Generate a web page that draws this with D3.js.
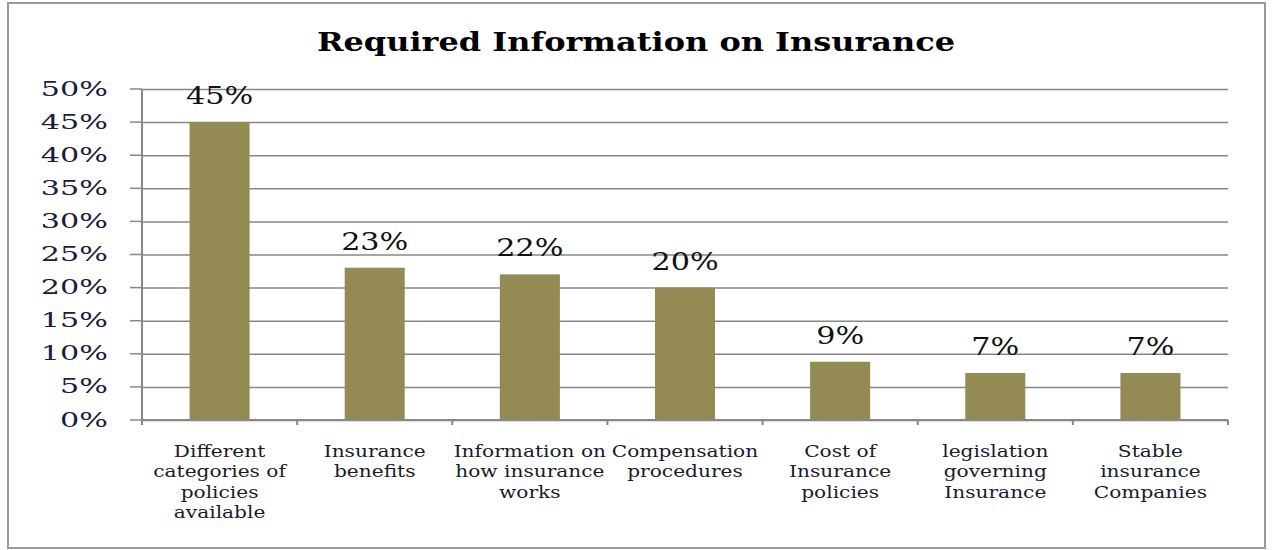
<!DOCTYPE html>
<html>
<head>
<meta charset="utf-8">
<script src="https://cdn.jsdelivr.net/npm/d3@7"></script>
<style>
  body { margin: 0; background: #fff; }
  svg { display: block; }
  text { font-family: "DejaVu Serif", serif; }
</style>
</head>
<body>
<svg id="chart" width="1272" height="550"></svg>
<script>
const categories = [
  ["Different", "categories of", "policies", "available"],
  ["Insurance", "benefits"],
  ["Information on", "how insurance", "works"],
  ["Compensation", "procedures"],
  ["Cost of", "Insurance", "policies"],
  ["legislation", "governing", "Insurance"],
  ["Stable", "insurance", "Companies"]
];
const values = [0.45, 0.23, 0.22, 0.20, 0.088, 0.071, 0.071];
const yTicks = [0, 0.05, 0.10, 0.15, 0.20, 0.25, 0.30, 0.35, 0.40, 0.45, 0.50];
const title = "Required Information on Insurance";

const svg = d3.select("#chart");
const gridColor = "#878787";

// outer frame
svg.append("rect")
  .attr("x", 8).attr("y", 3)
  .attr("width", 1257).attr("height", 545)
  .attr("fill", "none")
  .attr("stroke", "#9a9a9a")
  .attr("stroke-width", 2);

var margin = {top: 89, right: 44, bottom: 130, left: 142},
  width = 1272 - margin.left - margin.right,
  height = 550 - margin.top - margin.bottom,
  g = svg.append("g").attr("transform", "translate(" + margin.left + "," + margin.top + ")");

var x = d3.scaleBand()
  .domain(d3.range(categories.length))
  .range([0, width])
  .paddingInner(0.613)
  .paddingOuter(0.3065);

var y = d3.scaleLinear()
  .domain([0, 0.5])
  .range([height, 0]);

// gridlines
g.append("g")
  .call(d3.axisLeft(y).tickValues(yTicks).tickSize(-width).tickFormat(""))
  .call(s => s.select(".domain").remove())
  .call(s => s.selectAll(".tick line").attr("stroke", gridColor).attr("stroke-width", 1.5));

g.selectAll(".ytick")
  .data(yTicks)
  .enter().append("line")
  .attr("x1", -12).attr("x2", 0)
  .attr("y1", d => y(d)).attr("y2", d => y(d))
  .attr("stroke", gridColor).attr("stroke-width", 1.5);

g.selectAll(".ylabel")
  .data(yTicks)
  .enter().append("text")
  .attr("transform", d => "translate(-34," + (y(d) + 6.5) + ") scale(1.44,1)")
  .attr("text-anchor", "end")
  .attr("font-size", 21)
  .attr("fill", "#1b1b3a")
  .text(d3.format(".0%"));

// bars
g.selectAll(".bar")
  .data(values)
  .enter().append("rect")
  .attr("x", (d, i) => x(i))
  .attr("y", d => y(d))
  .attr("width", x.bandwidth())
  .attr("height", d => height - y(d))
  .attr("fill", "#948a54");

// value labels
g.selectAll(".vlabel")
  .data(values)
  .enter().append("text")
  .attr("transform", (d, i) => "translate(" + (x(i) + x.bandwidth() / 2) + "," + (y(d) - 18) + ") scale(1.26,1)")
  .attr("text-anchor", "middle")
  .attr("font-size", 24)
  .attr("fill", "#111")
  .text(d3.format(".0%"));

// axis lines
g.append("line")
  .attr("x1", 0).attr("x2", 0)
  .attr("y1", 0).attr("y2", height + 5)
  .attr("stroke", gridColor).attr("stroke-width", 2);

g.append("line")
  .attr("x1", 0).attr("x2", width)
  .attr("y1", height).attr("y2", height)
  .attr("stroke", gridColor).attr("stroke-width", 2);

const step = x.step();
g.selectAll(".xtick")
  .data(d3.range(categories.length + 1))
  .enter().append("line")
  .attr("x1", i => i * step).attr("x2", i => i * step)
  .attr("y1", height).attr("y2", height + 5)
  .attr("stroke", gridColor).attr("stroke-width", 2);

// category labels
const cat = g.selectAll(".xlabel")
  .data(categories)
  .enter().append("text")
  .attr("transform", (d, i) => "translate(" + (x(i) + x.bandwidth() / 2) + "," + (height + 37) + ") scale(1.26,1)")
  .attr("text-anchor", "middle")
  .attr("font-size", 16)
  .attr("fill", "#1a1a2a");

cat.selectAll("tspan")
  .data(d => d)
  .enter().append("tspan")
  .attr("x", 0)
  .attr("dy", (d, i) => i === 0 ? 0 : 20.5)
  .text(d => d);

// title
svg.append("text")
  .attr("transform", "translate(636,51) scale(1.23,1)")
  .attr("text-anchor", "middle")
  .attr("font-size", 26)
  .attr("font-weight", "bold")
  .attr("fill", "#000")
  .text(title);
</script>
</body>
</html>
